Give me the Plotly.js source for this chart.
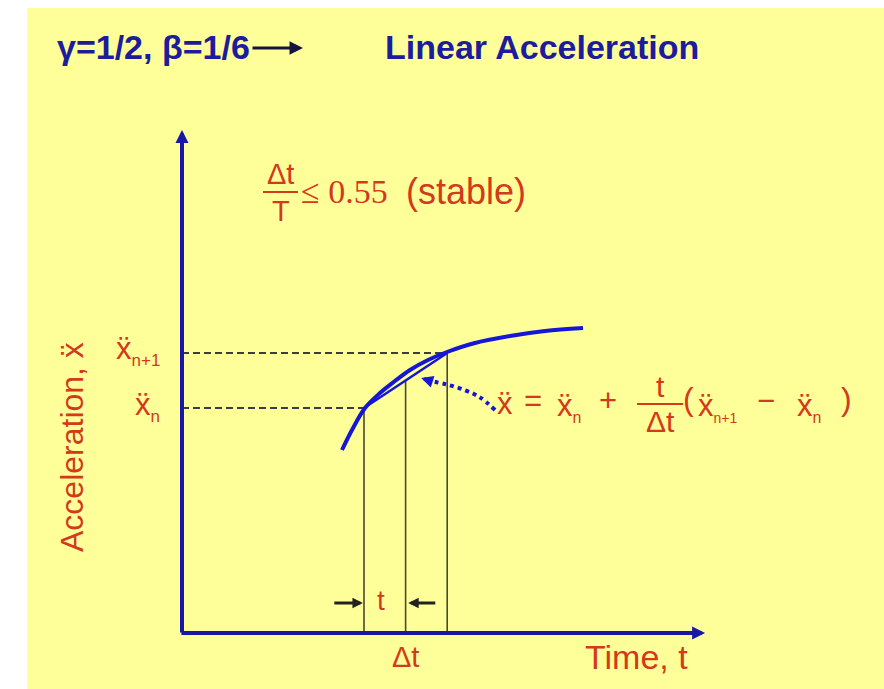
<!DOCTYPE html>
<html><head><meta charset="utf-8">
<script src="https://cdn.plot.ly/plotly-3.0.1.min.js"></script>
<style>html,body{margin:0;padding:0;background:#fff}#chart{width:884px;height:689px}</style>
</head><body><div id="chart"></div>
<script>
// ---- data (time units along x, acceleration units along y) ----
const curveTime = [3.077, 3.269, 3.519, 3.808, 4.096, 4.385, 4.731, 5.096, 5.635, 6.308, 6.981, 7.712];
const curveAcc  = [3.66, 4.06, 4.50, 4.80, 5.04, 5.26, 5.46, 5.62, 5.80, 5.94, 6.04, 6.10];
const stepTimes = [3.5, 4.3, 5.1];          // t_n, t_n + t, t_n+1
const stepAcc   = [4.5, 5.05, 5.6];         // values on the linear chord
const axisEnd   = [10.06, 10.06];           // time-axis end, acceleration-axis end
const dottedTime = [6.02, 5.72, 5.38, 5.05, 4.78];
const dottedAcc  = [4.46, 4.72, 4.88, 4.98, 5.04];
const dottedHead = [4.6, 5.1];
const tArrowLeft  = [2.9, 3.48];            // arrow pointing right at t_n
const tArrowRight = [4.9, 4.35];            // arrow pointing left at t_n + t
const tArrowLevel = 0.6;

const W = 884, H = 689;
const X = px => px / W, Y = py => 1 - py / H;
const RED = '#D3391B', NAVY = '#1C1C9C', AXC = '#1818A8', CURVE = '#1616D6', LN = '#4A4832', DASH = '#3C3C46';
const SANS = 'Liberation Sans, Arial, sans-serif';
const SERIF = 'Liberation Serif, Times New Roman, serif';

const vX = [], vY = [];
stepTimes.forEach((t, i) => { vX.push(t, t, null); vY.push(0, stepAcc[i], null); });
const dX = [0, stepTimes[0], null, 0, stepTimes[2]];
const dY = [stepAcc[0], stepAcc[0], null, stepAcc[2], stepAcc[2]];

const traces = [
  {x: vX, y: vY, mode: 'lines', line: {color: LN, width: 1.6}, hoverinfo: 'skip'},
  {x: dX, y: dY, mode: 'lines', line: {color: DASH, width: 1.8, dash: '7px,4px'}, hoverinfo: 'skip'},
  {x: [stepTimes[0], stepTimes[2]], y: [stepAcc[0], stepAcc[2]], mode: 'lines', line: {color: CURVE, width: 2.5}, hoverinfo: 'skip'},
  {x: curveTime, y: curveAcc, mode: 'lines', line: {color: CURVE, width: 4, shape: 'spline', smoothing: 1}, hoverinfo: 'skip'},
  {x: dottedTime, y: dottedAcc, mode: 'lines', line: {color: CURVE, width: 4, dash: 'dot', shape: 'spline'}, hoverinfo: 'skip'}
];

function txt(text, px, py, size, opts) {
  return Object.assign({text: text, xref: 'paper', yref: 'paper', x: X(px), y: Y(py),
    showarrow: false, xanchor: 'center', yanchor: 'middle',
    font: {family: SANS, size: size, color: RED}}, opts || {});
}
function arrow(x, y, ax, ay, color, width, size) {
  return {x: x, y: y, ax: ax, ay: ay, xref: 'x', yref: 'y', axref: 'x', ayref: 'y', text: '',
    showarrow: true, arrowhead: 2, arrowsize: size, arrowwidth: width, arrowcolor: color};
}
const XDD = '\u1E8D';
const sub = (s, fs) => '<sub><span style="font-size:' + fs + 'px">' + s + '</span></sub>';
const annotations = [
  // axes
  arrow(0, axisEnd[1], 0, -0.02, AXC, 4, 0.65),
  arrow(axisEnd[0], 0, -0.04, 0, AXC, 4, 0.65),
  // dotted pointer head
  arrow(dottedHead[0], dottedHead[1], dottedTime[dottedTime.length - 1], dottedAcc[dottedAcc.length - 1], CURVE, 4, 0.6),
  // t arrows
  arrow(tArrowLeft[1], tArrowLevel, tArrowLeft[0], tArrowLevel, '#222222', 3, 0.7),
  arrow(tArrowRight[1], tArrowLevel, tArrowRight[0], tArrowLevel, '#222222', 3, 0.7),
  // title line
  txt('<b>\u03B3=1/2, \u03B2=1/6</b>', 55, 47, 34, {xanchor: 'left', font: {family: SANS, size: 34, color: NAVY}}),
  {xref: 'paper', yref: 'paper', x: X(303), y: Y(48), ax: -52, ay: 0, text: '', showarrow: true,
   arrowhead: 2, arrowsize: 0.9, arrowwidth: 3, arrowcolor: '#15153C'},
  txt('<b>Linear Acceleration</b>', 383, 47, 34, {xanchor: 'left', font: {family: SANS, size: 34, color: NAVY}}),
  // stability criterion
  txt('\u0394t', 280, 174, 29),
  txt('T', 281, 211, 29),
  txt('\u2264 0.55', 299, 191, 34, {xanchor: 'left', font: {family: SERIF, size: 34, color: RED}}),
  txt('(stable)', 404, 191, 36, {xanchor: 'left'}),
  // axis titles
  txt('Acceleration, ' + XDD, 72, 447, 32, {textangle: -90}),
  txt('Time, t', 636, 657, 34),
  txt('\u0394t', 405, 657, 29),
  txt('t', 381, 600, 28),
  // level labels
  txt(XDD + sub('n+1', 17), 162, 350, 31, {xanchor: 'right'}),
  txt(XDD + sub('n', 17), 162, 406, 31, {xanchor: 'right'}),
  // formula
  txt(XDD, 505, 404, 31),
  txt('=', 533, 400, 31),
  txt(XDD + sub('n', 16), 555, 407, 31, {xanchor: 'left'}),
  txt('+', 608, 400, 31),
  txt('t', 660, 386, 30),
  txt('\u0394t', 660, 421, 30),
  txt('(', 688, 399, 32),
  txt(XDD + sub('n+1', 14), 696, 407, 31, {xanchor: 'left'}),
  txt('\u2212', 766, 400, 31),
  txt(XDD + sub('n', 16), 795, 407, 31, {xanchor: 'left'}),
  txt(')', 846, 399, 32)
];

const shapes = [
  {type: 'rect', xref: 'paper', yref: 'paper', x0: X(27), x1: 1, y0: 0, y1: Y(8), fillcolor: '#FFFF99', line: {width: 0}, layer: 'below'},
  {type: 'line', xref: 'paper', yref: 'paper', x0: X(263), x1: X(298), y0: Y(192), y1: Y(192), line: {color: RED, width: 2}},
  {type: 'line', xref: 'paper', yref: 'paper', x0: X(637), x1: X(683), y0: Y(404), y1: Y(404), line: {color: RED, width: 2}}
];

const layout = {
  width: W, height: H, margin: {l: 0, r: 0, t: 0, b: 0},
  paper_bgcolor: '#ffffff', plot_bgcolor: 'rgba(0,0,0,0)', showlegend: false,
  xaxis: {range: [-3.5, 13.5], visible: false, fixedrange: true},
  yaxis: {range: [-1.12, 12.66], visible: false, fixedrange: true},
  annotations: annotations, shapes: shapes
};
Plotly.newPlot('chart', traces, layout, {displayModeBar: false, staticPlot: true});
</script></body></html>
